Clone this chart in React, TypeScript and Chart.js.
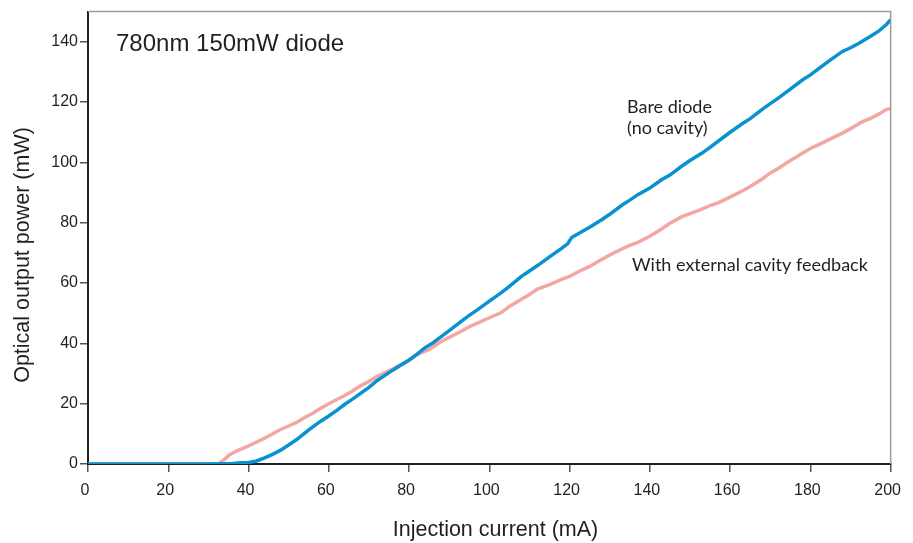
import React, { useEffect, useRef } from "react";
import { Chart, registerables } from "chart.js";

Chart.register(...registerables);

// Bare diode (no cavity)
const bareX = [0, 10, 20, 30, 36, 38, 40, 42, 44, 46, 48, 50, 52, 54, 56, 58, 60, 62, 64, 66, 68, 70, 72, 75, 78, 80, 82, 84, 86, 88, 90, 93, 95, 97, 100, 103, 105, 108, 110, 112, 115, 118, 119.5, 120.5, 123, 125, 128, 130, 133, 135, 137, 140, 143, 145, 148, 150, 153, 155, 158, 160, 163, 165, 168, 170, 172, 175, 178, 180, 183, 185, 188, 190, 192, 195, 197, 199, 200];
const bareY = [0, 0, 0, 0, 0.2, 0.4, 0.5, 1.0, 2.0, 3.2, 4.6, 6.3, 8.1, 10.2, 12.3, 14.2, 15.9, 17.8, 19.8, 21.6, 23.5, 25.4, 27.6, 30.3, 32.8, 34.4, 36.4, 38.6, 40.2, 42.2, 44.2, 47.3, 49.3, 51.1, 54.0, 56.8, 58.9, 62.2, 64.0, 65.8, 68.7, 71.5, 73.0, 75.1, 77.0, 78.5, 81.0, 82.8, 85.8, 87.5, 89.3, 91.5, 94.3, 95.8, 98.8, 100.6, 103.1, 105.0, 108.0, 110.0, 112.8, 114.5, 117.6, 119.5, 121.3, 124.3, 127.3, 129.0, 132.0, 134.0, 136.8, 138.0, 139.4, 141.8, 143.5, 145.8, 147.3];

// With external cavity feedback
const ecX = [0, 10, 20, 30, 32.5, 34, 35.2, 37, 40, 43.5, 45, 47.6, 50, 52, 54, 56, 58, 60, 62, 64, 66, 68, 70, 72, 75, 78, 80, 82, 85, 88, 90, 93, 95, 98, 100, 103, 105, 108, 110, 112, 115, 118, 120, 123, 125, 128, 130, 133, 135, 137, 140, 143, 145, 148, 150, 153, 155, 157, 160, 163, 165, 168, 170, 172, 175, 178, 180, 183, 185, 188, 190, 193, 195, 197, 199, 200];
const ecY = [0, 0, 0, 0, 0, 1.5, 3.0, 4.3, 6.0, 8.2, 9.3, 11.2, 12.6, 13.8, 15.4, 16.8, 18.5, 20.0, 21.4, 22.7, 24.3, 26.0, 27.4, 29.0, 30.9, 33.0, 34.6, 36.3, 38.0, 40.6, 42.0, 44.0, 45.5, 47.3, 48.5, 50.2, 52.2, 54.6, 56.2, 58.0, 59.5, 61.2, 62.2, 64.3, 65.5, 67.8, 69.3, 71.3, 72.5, 73.5, 75.5, 78.0, 79.8, 82.0, 83.0, 84.5, 85.7, 86.6, 88.5, 90.5, 92.0, 94.5, 96.5, 98.0, 100.6, 103.0, 104.6, 106.5, 107.8, 109.7, 111.2, 113.5, 114.6, 116.0, 117.6, 117.8];

const chartTitle = "780nm 150mW diode";
const bareLabel = ["Bare diode", "(no cavity)"];
const ecLabel = "With external cavity feedback";
const xTitle = "Injection current (mA)";
const yTitle = "Optical output power (mW)";

const W = 913;
const H = 543;

const textPlugin = {
  id: "annotations",
  afterDraw(chart: any) {
    const { ctx, chartArea } = chart;
    ctx.save();
    // top & right frame
    ctx.strokeStyle = "#9b9b9b";
    ctx.lineWidth = 1.5;
    ctx.beginPath();
    ctx.moveTo(chartArea.left, chartArea.top);
    ctx.lineTo(chartArea.right, chartArea.top);
    ctx.lineTo(chartArea.right, chartArea.bottom);
    ctx.stroke();

    ctx.fillStyle = "#231f20";
    ctx.textBaseline = "alphabetic";
    ctx.textAlign = "left";
    ctx.font = "24px 'Liberation Sans', Arial, sans-serif";
    ctx.fillText(chartTitle, 116, 51);

    ctx.font = "18px Lato, 'Noto Sans', sans-serif";
    ctx.fillText(bareLabel[0], 627, 113);
    ctx.fillText(bareLabel[1], 627, 134);
    ctx.fillText(ecLabel, 632, 271);

    // axis titles
    ctx.font = "21.5px 'Liberation Sans', Arial, sans-serif";
    ctx.textAlign = "center";
    ctx.fillText(xTitle, 495.5, 536);
    ctx.translate(28.5, 255);
    ctx.rotate(-Math.PI / 2);
    ctx.fillText(yTitle, 0, 0);
    ctx.restore();
  },
};

export default function App() {
  const ref = useRef<HTMLCanvasElement | null>(null);

  useEffect(() => {
    if (!ref.current) return;
    const tickFont = { family: "'Liberation Sans', Arial, sans-serif", size: 16 };
    const chart = new Chart(ref.current, {
      type: "line",
      data: {
        datasets: [
          {
            label: "Bare diode (no cavity)",
            data: bareX.map((x, i) => ({ x, y: bareY[i] })),
            borderColor: "#0992CF",
            borderWidth: 3.5,
            pointRadius: 0,
            tension: 0,
            fill: false,
          },
          {
            label: "With external cavity feedback",
            data: ecX.map((x, i) => ({ x, y: ecY[i] })),
            borderColor: "#F2A7A3",
            borderWidth: 3.5,
            pointRadius: 0,
            tension: 0,
            fill: false,
          },
        ],
      },
      options: {
        animation: false,
        responsive: false,
        maintainAspectRatio: false,
        layout: { padding: { left: 0, top: 7, right: 20, bottom: 0 } },
        plugins: {
          legend: { display: false },
          tooltip: { enabled: false },
          title: { display: false },
        },
        scales: {
          x: {
            type: "linear",
            min: 0,
            max: 200,
            ticks: { stepSize: 20, font: tickFont, color: "#231f20", padding: 9, maxRotation: 0, labelOffset: -3 },
            grid: { drawOnChartArea: false, drawTicks: true, tickLength: 8, color: "#555555", lineWidth: 1.5 },
            border: { color: "#231f20", width: 2 },
            title: { display: false, text: xTitle },
            afterFit: (s: any) => {
              s.height = H - 464;
            },
          },
          y: {
            type: "linear",
            min: 0,
            max: 150,
            ticks: { stepSize: 20, includeBounds: false, font: tickFont, color: "#231f20", padding: 2 },
            grid: { drawOnChartArea: false, drawTicks: true, tickLength: 8, color: "#555555", lineWidth: 1.5 },
            border: { color: "#231f20", width: 2 },
            title: { display: false, text: yTitle },
            afterFit: (s: any) => {
              s.width = 88;
            },
          },
        },
      },
      plugins: [textPlugin],
    });
    return () => chart.destroy();
  }, []);

  return (
    <div style={{ position: "fixed", left: 0, top: 0, width: W, height: H, background: "#ffffff" }}>
      <canvas ref={ref} width={W} height={H} style={{ width: W, height: H, display: "block" }} />
    </div>
  );
}
